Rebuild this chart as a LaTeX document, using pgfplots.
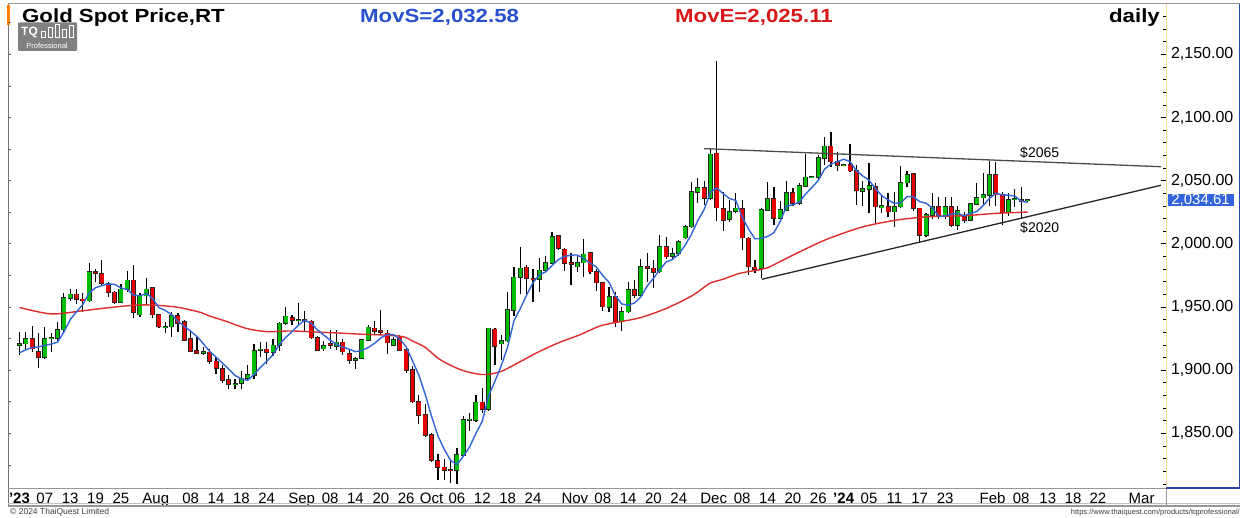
\documentclass[border=0pt]{standalone}
\usepackage{pgfplots}
\pgfplotsset{compat=1.18}
\usepackage{pgfplotstable}
\usepackage{fontspec}
\setmainfont{Liberation Sans}
\usepackage{graphicx}
\newcommand{\fs}[1]{\fontsize{#1}{#1}\selectfont}
\definecolor{cgreen}{RGB}{0,190,0}
\definecolor{cred}{RGB}{230,0,0}
\definecolor{mablue}{RGB}{50,100,215}
\definecolor{mared}{RGB}{222,45,45}
\definecolor{txtblue}{RGB}{40,80,205}
\definecolor{txtred}{RGB}{215,25,25}
\definecolor{pricebox}{RGB}{50,100,220}
\definecolor{framegray}{RGB}{150,150,150}
\definecolor{axblue}{RGB}{40,70,170}
\definecolor{axyellow}{RGB}{245,220,150}

\pgfplotstableread{
i O H L C S
0 1919.5 1930 1912 1920.5 1913.70
1 1921 1930 1917 1925 1916.10
2 1925 1935 1914 1917 1917.90
3 1914.5 1929 1902 1910.5 1918.40
4 1910.5 1934.5 1909 1925 1919.60
5 1925.5 1929 1914 1925.8 1920.66
6 1925.5 1938 1923 1932 1922.06
7 1932 1961 1930 1957 1930.06
8 1957 1964 1955 1960 1939.96
9 1960 1964 1952 1956 1946.16
10 1956 1961 1946 1955 1952.00
11 1955 1985 1954 1978 1961.20
12 1978 1980 1970 1977 1965.20
13 1976 1987.5 1967 1969 1967.00
14 1968 1970 1958 1961.5 1968.10
15 1961.5 1962.5 1952 1954 1967.90
16 1954 1968 1953 1964 1965.10
17 1964 1978.5 1962 1971 1963.90
18 1971 1983 1941 1946 1959.30
19 1944 1961 1942 1959 1958.80
20 1959 1973 1952 1964 1960.80
21 1965 1966 1941 1944 1956.80
22 1943.5 1944 1933 1934.5 1949.50
23 1934 1938 1929 1934.5 1947.20
24 1934.5 1946 1926 1943 1944.00
25 1943 1945 1930 1937.5 1938.70
26 1938 1940 1923 1924 1934.70
27 1924.5 1930 1914 1915 1930.80
28 1915 1926 1913 1913.5 1926.60
29 1913.5 1918 1912 1914.5 1920.90
30 1914 1917 1905 1907 1914.80
31 1907 1910 1897 1901.5 1910.30
32 1901 1904 1890 1892 1905.70
33 1892 1896 1885 1889 1900.80
34 1889 1893 1885 1889.3 1895.76
35 1889.5 1899 1885 1893.5 1893.06
36 1893.5 1904 1891 1896 1891.96
37 1896 1921 1893 1915 1896.56
38 1916 1922.5 1910 1916.5 1902.06
39 1916.5 1922 1904.5 1914 1907.00
40 1914 1925 1911 1919.5 1912.20
41 1920 1938 1915 1937 1920.40
42 1937.5 1950 1936 1942.5 1925.90
43 1941.5 1944 1936 1939.5 1930.50
44 1939.5 1953.4 1936 1939.8 1935.66
45 1939.5 1947 1930 1938.5 1939.46
46 1938.5 1940 1925 1925.7 1937.20
47 1925.7 1927 1915 1916 1931.90
48 1917 1923 1915 1919 1927.80
49 1920.5 1932 1917 1919.5 1923.74
50 1919 1932 1916 1922 1920.44
51 1922 1925 1912 1914.6 1918.22
52 1913 1916 1905 1908 1916.62
53 1908 1910 1901 1909 1914.62
54 1909.8 1924.5 1909 1923.8 1915.48
55 1923.8 1936 1923 1933.9 1917.86
56 1933 1939 1928 1931 1921.14
57 1931 1947.6 1928 1930 1925.54
58 1929 1932 1913 1921.7 1928.08
59 1920 1926.5 1919 1924 1928.12
60 1926 1928 1915 1916 1924.54
61 1916 1918.5 1898 1900 1918.34
62 1900 1903 1874 1875 1907.34
63 1875 1880 1857 1864.5 1895.90
64 1864.5 1873 1847 1848.7 1880.84
65 1848.7 1850 1827 1829 1863.44
66 1828.3 1834 1813 1823 1848.04
67 1823 1830 1813 1821 1837.24
68 1821.2 1829 1811 1820.8 1828.50
69 1821 1838 1810 1833 1825.36
70 1833 1864 1831 1860.5 1831.66
71 1860.7 1866 1852 1861 1839.26
72 1860.5 1880 1859 1874.4 1849.94
73 1874.4 1886 1866 1869 1859.58
74 1869 1933.5 1868 1933 1879.58
75 1932.3 1933 1904 1919 1891.28
76 1921 1928 1908 1923 1903.68
77 1923.3 1962 1922 1947.6 1918.32
78 1947.6 1982 1943 1973.5 1939.22
79 1973.5 1997.6 1960 1980.6 1948.74
80 1981.4 1983.5 1960 1972.7 1959.48
81 1972.3 1980 1954 1971.9 1969.26
82 1972 1989 1962 1979 1975.54
83 1979 1990 1978 1984.6 1977.76
84 1984.6 2009.5 1984 2005.6 1982.76
85 2006 2007 1995 1996.4 1987.50
86 1995.6 1997 1978.5 1984.6 1990.04
87 1985 1993 1967 1984 1991.04
88 1982 1990 1978 1985 1991.12
89 1985 2004 1974 1991.7 1988.34
90 1992.5 1993 1976 1978 1984.66
91 1978 1980 1963 1969.2 1981.58
92 1969.2 1970 1947 1950.3 1974.84
93 1950 1965.5 1946 1958 1969.44
94 1958 1962 1934 1938.4 1958.78
95 1938.4 1950.3 1931 1946.3 1952.44
96 1946.3 1970 1945 1963.5 1951.30
97 1963.5 1971 1957 1959.5 1953.14
98 1959.5 1988 1958.5 1982 1957.94
99 1981.5 1993 1970 1981 1966.46
100 1980.5 1987 1965 1977.6 1972.72
101 1977.9 2007 1977 1997.7 1979.56
102 1997.7 2005 1988 1989.8 1985.62
103 1990 1997 1988 1992 1987.62
104 1992.5 2003 1990.5 2001.7 1991.76
105 2004.8 2015 2004 2013.5 1998.94
106 2013.5 2049 2012.5 2040.8 2007.56
107 2040.8 2052 2032 2044 2018.40
108 2044 2050 2031 2036 2027.20
109 2036 2075 2035 2070.8 2041.02
110 2071.6 2144.7 2018 2028.6 2044.04
111 2027.5 2041 2010 2018.8 2039.64
112 2019.4 2035 2017 2025 2035.84
113 2026 2040 2024 2028 2034.24
114 2027.5 2034.6 1995 2004.8 2021.04
115 2004.3 2005 1975.3 1982 2011.72
116 1981.4 1987 1977 1979.8 2003.92
117 1980.6 2028 1972.7 2026.8 2004.28
118 2026.8 2049 2026 2035.5 2005.78
119 2035.5 2045 2015 2020.2 2008.86
120 2020.2 2034 2018 2026.8 2017.82
121 2026.8 2050 2026 2040 2029.86
122 2040 2044 2030 2032 2030.90
123 2032 2048 2031 2045.7 2032.94
124 2045.7 2070.8 2045 2052.6 2039.42
125 2052.6 2053 2052.2 2052.9 2044.64
126 2052.6 2070 2051.5 2067.7 2050.18
127 2067.7 2084.5 2062 2077 2059.18
128 2077 2088.7 2061 2065 2063.04
129 2065 2073 2058 2062.4 2065.00
130 2062.4 2063 2062 2062.6 2066.94
131 2062.4 2078.8 2057 2058 2065.00
132 2058 2062.4 2030.7 2042 2058.00
133 2041.6 2050 2030 2043.5 2053.70
134 2043 2063.7 2024 2045.7 2050.36
135 2045 2048 2016.7 2029.4 2043.72
136 2028.7 2039 2024 2030 2038.12
137 2029.4 2040 2021 2025.4 2034.80
138 2025.4 2041 2013.5 2029 2031.90
139 2029.4 2061.8 2028 2048.5 2032.46
140 2048.5 2058 2045 2054.4 2037.46
141 2055.2 2056 2026 2028 2037.06
142 2028 2028.5 2001.8 2007 2033.38
143 2007 2024 2005 2022.7 2032.12
144 2022.7 2040 2020 2029 2028.22
145 2029 2037 2019.6 2021.5 2021.64
146 2021.5 2037 2019.6 2029.4 2021.92
147 2029.4 2037 2013 2014.9 2023.50
148 2015 2030 2011 2026 2024.16
149 2021.5 2025 2016.7 2018.8 2022.12
150 2018.8 2032 2018 2031.5 2024.12
151 2031.5 2048 2031 2036.5 2025.54
152 2036.5 2055.7 2030 2038.6 2030.28
153 2038.6 2065.8 2030 2054.4 2035.96
154 2054.4 2065 2030 2039 2040.00
155 2039 2041 2015 2025 2038.70
156 2025 2040 2022 2035 2038.40
157 2035 2043 2029 2035.5 2037.78
158 2035 2045 2020 2034 2033.70
159 2034.4 2035.8 2033.4 2034.61 2032.82
}\candles

\begin{document}
\begin{tikzpicture}
\useasboundingbox (0pt,0pt) rectangle (1241pt,517pt);
\fill[white] (0pt,0pt) rectangle (1241pt,517pt);
\begin{axis}[
  at={(8pt,29pt)}, anchor=south west,
  scale only axis, width=1158pt, height=483pt,
  xmin=-1.81, xmax=180.84, ymin=1806.7, ymax=2189,
  axis line style={draw=none},
  ytick={1850,1900,...,2150},
  minor ytick={1810,1820,...,2180},
  ytick pos=right, yticklabel pos=right,
  scaled y ticks=false,
  tick style={black, line width=0.6pt},
  major tick length=5pt, minor tick length=2.5pt,
  yticklabel style={font=\fs{16}, anchor=west, xshift=1.5pt,
    /pgf/number format/fixed, /pgf/number format/fixed zerofill,
    /pgf/number format/precision=2, /pgf/number format/1000 sep={,},
    /pgf/number format/assume math mode=true},
  xtick={0,4,8,12,16,21.5,27,31,35,39,44.5,49,53,57,61,65,69,73,77,81,87.6,92,96,100,104,109.5,114,118,122,126,130,134,138,142,146,153.5,158,162.2,166.2,170.1,177},
  xticklabels={{\textbf{'23}},07,13,19,25,Aug,08,14,18,24,Sep,08,14,20,26,Oct,06,12,18,24,Nov,08,14,20,24,Dec,08,14,20,26,{\textbf{'24}},05,11,17,23,Feb,08,13,18,22,Mar},
  xtick pos=left,
  xtick style={draw=none},
  xticklabel style={font=\fs{15}, anchor=north, inner sep=1pt, yshift=-3.5pt},
]
% wicks
\addplot[draw=none, mark=none, error bars/.cd, y dir=plus, y explicit, error mark=none,
  error bar style={draw=black, line width=1.2pt}]
  table[x=i, y=L, y error plus expr=\thisrow{H}-\thisrow{L}] {\candles};
% body outlines
\addplot[draw=none, mark=none, error bars/.cd, y dir=plus, y explicit, error mark=none,
  error bar style={draw=black!85, line width=5pt}]
  table[x=i, y expr={min(\thisrow{O},\thisrow{C})-0.6}, y error plus expr={abs(\thisrow{C}-\thisrow{O})+1.2}] {\candles};
% green bodies
\addplot[draw=none, mark=none, restrict expr to domain={\thisrow{C}-\thisrow{O}}{0.01:1000},
  error bars/.cd, y dir=plus, y explicit, error mark=none,
  error bar style={draw=cgreen, line width=3.6pt}]
  table[x=i, y=O, y error plus expr=\thisrow{C}-\thisrow{O}] {\candles};
% red bodies
\addplot[draw=none, mark=none, restrict expr to domain={\thisrow{O}-\thisrow{C}}{0.01:1000},
  error bars/.cd, y dir=plus, y explicit, error mark=none,
  error bar style={draw=cred, line width=3.6pt}]
  table[x=i, y=C, y error plus expr=\thisrow{O}-\thisrow{C}] {\candles};
% MovE (red)
\addplot[mared, line width=1.4pt, smooth, mark=none] coordinates {
(0,1949.6) (5,1944.5) (10,1947) (14,1949.4) (18,1951.3) (21,1951.5) (25,1949.7) (28.7,1945.5)
(30,1942.8) (32.5,1938.8) (35.8,1933) (39,1930.5) (42.7,1931) (45.8,1930.4) (51,1929.2) (54,1928.4)
(57.4,1927.8) (60.5,1926.5) (62,1923) (64,1918) (66.3,1908.5) (69.5,1900.5) (72.9,1896.5) (75.8,1898.7)
(78.9,1906.5) (82.1,1915) (85.2,1922) (88.4,1928) (91.6,1935) (94.7,1938.3) (97.9,1941.5) (102.1,1949)
(106.3,1959.5) (108.8,1968.5) (111,1972) (113.6,1976.6) (116.8,1979.5) (118,1981) (121,1988.5)
(124.2,1996.4) (127.8,2004.5) (133.1,2013.5) (138.4,2018.8) (143.6,2021.5) (148.9,2022.2) (154.1,2024.1) (159,2025.1)
};
% MovS (blue)
\addplot[mablue, line width=1.4pt, mark=none] table[x=i, y=S] {\candles};
% trend lines
\addplot[black!70, line width=1.3pt, mark=none] coordinates {(108,2075.3) (180.05,2061)};
\addplot[black!85, line width=1.3pt, mark=none] coordinates {(117.1,1971.9) (180.05,2046.3)};
\end{axis}
\begin{scope}[x=1pt,y=1pt]
% frame
\draw[framegray, line width=1pt] (8,513) -- (1240,513);
\draw[black!55, line width=1pt] (8,11) -- (8,513);
\draw[framegray, line width=1pt] (8,29) -- (1166,29);
\draw[framegray, line width=1.2pt] (8,11) -- (1240,11);
\draw[framegray!60, line width=0.8pt] (8,13.5) -- (1240,13.5);
\draw[axyellow, line width=1pt] (1166,29) -- (1166,513);
\draw[framegray, line width=1pt] (1166,29) -- (1166,11);
\draw[axblue, line width=1.2pt] (1239.4,29) -- (1239.4,513);
\draw[axblue, line width=1.2pt] (1166,29) -- (1240,29);
\fill[orange] (7,492) rectangle (9.5,512);
\foreach \v in {1825,1850,...,2175} \draw[black!60, line width=0.6pt] (8,{517-54.3-(2150-\v)*1.2633}) -- ++(3,0);
% titles
\node[anchor=base west, inner sep=0] at (22,494.3) {\scalebox{1.17}[1]{\fs{19}\bfseries Gold Spot Price,RT}};
\node[anchor=base west, inner sep=0, text=txtblue] at (360,494.3) {\scalebox{1.17}[1]{\fs{19}\bfseries MovS=2,032.58}};
\node[anchor=base west, inner sep=0, text=txtred] at (675,494.3) {\scalebox{1.17}[1]{\fs{19}\bfseries MovE=2,025.11}};
\node[anchor=base east, inner sep=0] at (1160,494.3) {\scalebox{1.17}[1]{\fs{19}\bfseries daily}};
% logo
\fill[black!50, rounded corners=1pt] (18,466) rectangle (77,494.5);
\node[anchor=center, inner sep=0, text=white] at (29.5,484.5) {\fs{12}\bfseries TQ};
\foreach \xx/\hh in {41/6,48/10,55/13,62/8,69/12} {\draw[white, line width=1pt] (\xx,479) rectangle ++(4,\hh);}
\node[anchor=center, inner sep=0, text=white] at (47,471.5) {\fs{7.5}Professional};
% trend labels
\node[anchor=west, inner sep=0] at (1020,364) {\fs{14}\$2065};
\node[anchor=west, inner sep=0] at (1020,289) {\fs{14}\$2020};
% last price box
\fill[pricebox] (1167.5,311) rectangle (1233.5,323);
\node[anchor=center, inner sep=0, text=white] at (1200.5,317) {\fs{15}2,034.61};
% footer
\node[anchor=base west, inner sep=0, text=black!75] at (10,3) {\fs{8.5}© 2024 ThaiQuest Limited};
\node[anchor=base east, inner sep=0, text=black!75] at (1240,3) {\fs{7.5}https://www.thaiquest.com/products/tqprofessional/};
\end{scope}
\end{tikzpicture}
\end{document}
